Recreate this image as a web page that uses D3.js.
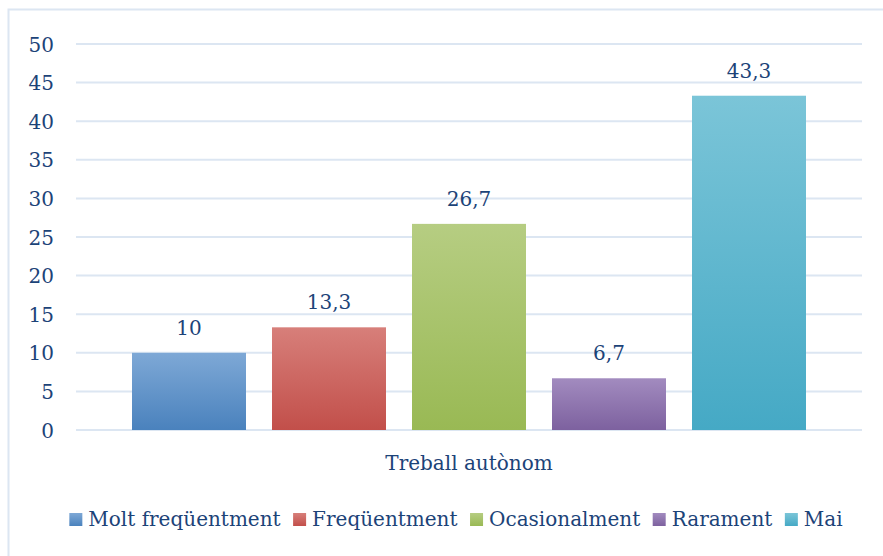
<!DOCTYPE html>
<html>
<head>
<meta charset="utf-8">
<script src="https://cdn.jsdelivr.net/npm/d3@7"></script>
<style>
  body { margin: 0; background: #fff; }
  text { font-family: "DejaVu Serif", serif; fill: #1c4378; }
</style>
</head>
<body>
<div id="chart"></div>
<script>
var width = 883,
    height = 556;

// chart data
var category = "Treball autònom";
var series = ["Molt freqüentment", "Freqüentment", "Ocasionalment", "Rarament", "Mai"];
var values = [10, 13.3, 26.7, 6.7, 43.3];
var yTicks = [0, 5, 10, 15, 20, 25, 30, 35, 40, 45, 50];
// top / bottom colours of each bar gradient
var colorsTop = ["#7ea8d6", "#d77f7a", "#b6cd82", "#a28bbf", "#7bc5d8"];
var colorsBottom = ["#4a82bd", "#c24f4a", "#99b954", "#7d619f", "#45a9c5"];

var svg = d3.select("#chart")
  .append("svg")
  .attr("width", width)
  .attr("height", height);

// gradients
var defs = svg.append("defs");
series.forEach(function(s, i) {
  var g = defs.append("linearGradient")
    .attr("id", "grad" + i)
    .attr("x1", 0).attr("y1", 0).attr("x2", 0).attr("y2", 1);
  g.append("stop").attr("offset", "0%").attr("stop-color", colorsTop[i]);
  g.append("stop").attr("offset", "100%").attr("stop-color", colorsBottom[i]);
});

// outer border
svg.append("rect")
  .attr("x", 8.5).attr("y", 9.5)
  .attr("width", 890).attr("height", 560)
  .attr("fill", "none")
  .attr("stroke", "#dce6f2")
  .attr("stroke-width", 2);

var y = d3.scaleLinear().domain([0, 50]).range([430, 44]);
var x = d3.scaleBand().domain(series).range([132, 806])
  .paddingInner(26 / 140).paddingOuter(0);

// gridlines
svg.append("g").selectAll("line")
  .data(yTicks)
  .enter().append("line")
  .attr("x1", 76).attr("x2", 862)
  .attr("y1", d => y(d)).attr("y2", d => y(d))
  .attr("stroke", "#dce6f2")
  .attr("stroke-width", 2);

// y axis labels
var yAxis = d3.axisLeft(y).tickValues(yTicks).tickSize(0).tickPadding(0);
var ya = svg.append("g")
  .attr("transform", "translate(54,0)")
  .call(yAxis);
ya.select(".domain").remove();
ya.selectAll("text")
  .style("font-size", "20px")
  .style("font-family", "DejaVu Serif, serif")
  .attr("fill", "#1c4378")
  .attr("dy", "0.35em");

// bars
svg.append("g").selectAll("rect")
  .data(values)
  .enter().append("rect")
  .attr("x", (d, i) => x(series[i]))
  .attr("y", d => y(d))
  .attr("width", x.bandwidth())
  .attr("height", d => y(0) - y(d))
  .attr("fill", (d, i) => "url(#grad" + i + ")");

// value labels
svg.append("g").selectAll("text")
  .data(values)
  .enter().append("text")
  .attr("x", (d, i) => x(series[i]) + x.bandwidth() / 2)
  .attr("y", d => y(d) - 18)
  .attr("text-anchor", "middle")
  .style("font-size", "20px")
  .text(d => String(d).replace(".", ","));

// category label
svg.append("text")
  .attr("x", 469)
  .attr("y", 470)
  .attr("text-anchor", "middle")
  .style("font-size", "20px")
  .text(category);

// legend
var legend = svg.append("g");
var lx = 0, gap = 12.5;
series.forEach(function(s, i) {
  var item = legend.append("g").attr("transform", "translate(" + lx + ",0)");
  item.append("rect")
    .attr("x", 0).attr("y", -13)
    .attr("width", 13).attr("height", 13)
    .attr("fill", "url(#grad" + i + ")");
  var t = item.append("text")
    .attr("x", 19).attr("y", 0)
    .style("font-size", "20px")
    .text(s);
  lx += 19 + t.node().getComputedTextLength() + gap;
});
var legendWidth = lx - gap;
legend.attr("transform", "translate(" + (456 - legendWidth / 2) + ",526)");
</script>
</body>
</html>
